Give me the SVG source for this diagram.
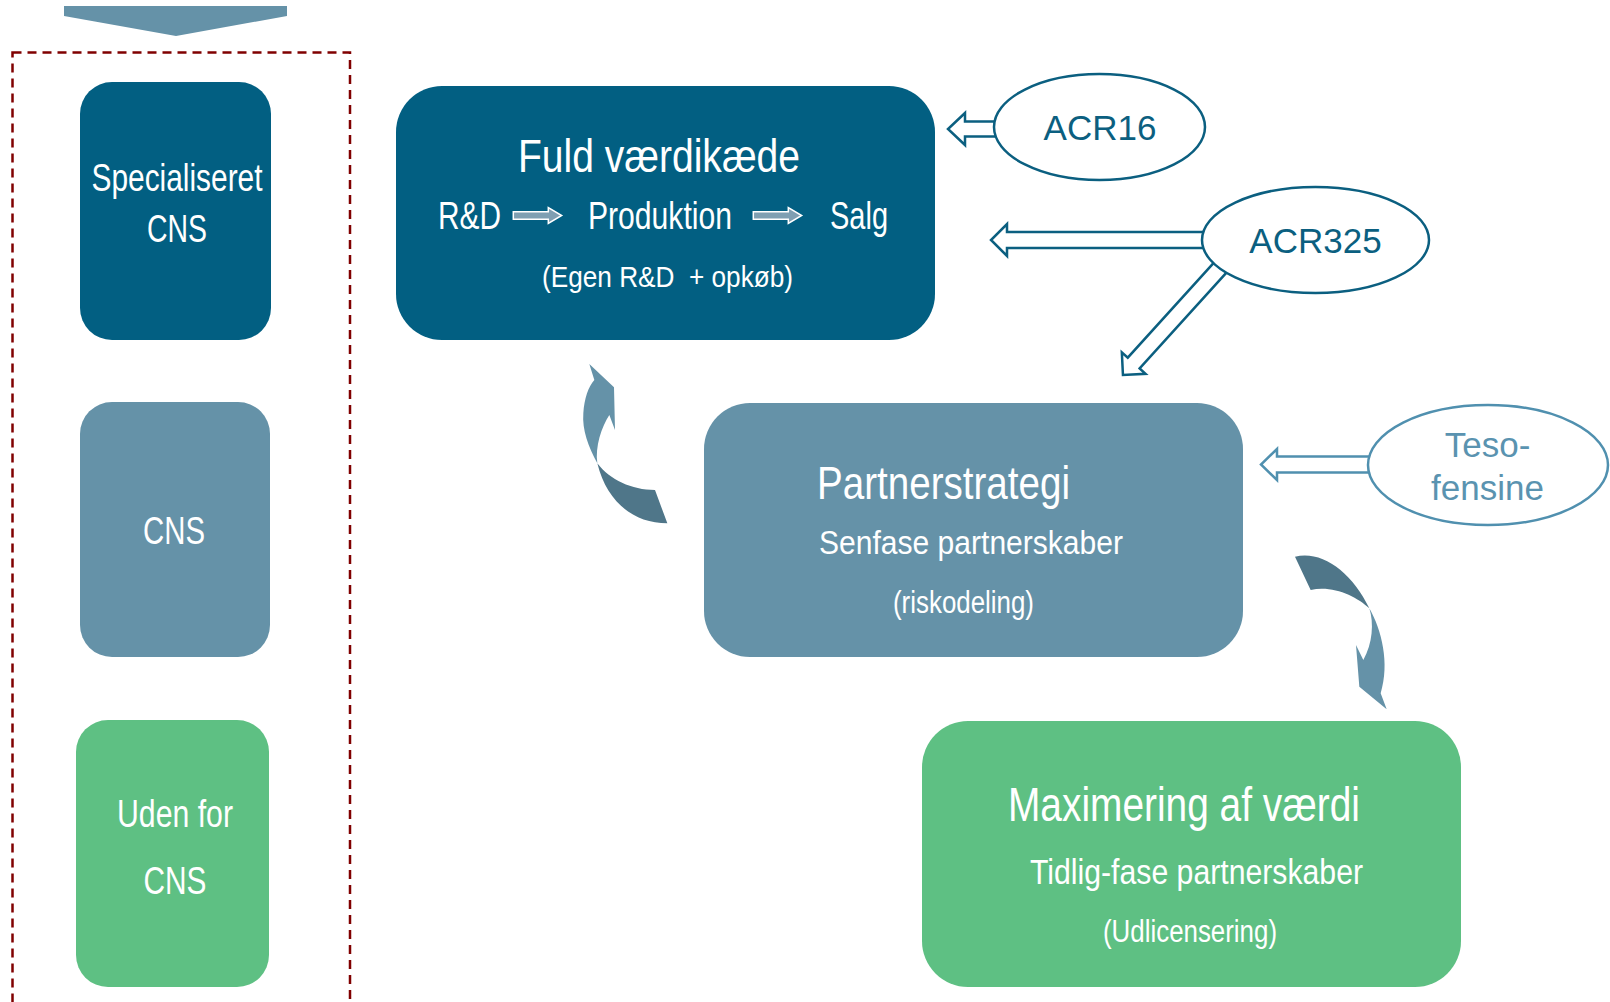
<svg xmlns="http://www.w3.org/2000/svg" width="1610" height="1002" viewBox="0 0 1610 1002">
<style>
.t{font-family:"Liberation Sans",Arial,sans-serif;fill:#fff;text-anchor:middle}
.dk{fill:#025f82}
.md{fill:#6592a8}
.gr{fill:#5ec083}
.ol{fill:#fff;stroke:#0b5f80;stroke-width:2.5}
.olt{fill:#fff;stroke:#5090af;stroke-width:2.5}
.lbl{font-family:"Liberation Sans",Arial,sans-serif;fill:#0b5f80;text-anchor:middle;font-size:35px}
.lblt{font-family:"Liberation Sans",Arial,sans-serif;fill:#5a93b0;text-anchor:middle;font-size:35px}
.inarr{fill:#7f9fb2;stroke:#fff;stroke-width:1.5}
</style>
<rect width="1610" height="1002" fill="#fff"/>
<polygon points="64,6 287,6 287,16 176,36 64,16" fill="#6592a8"/>
<rect x="12.5" y="52.5" width="337.5" height="1000" fill="none" stroke="#800000" stroke-width="2.5" stroke-dasharray="9 6"/>
<g id="connectors">
  <path class="ol" d="M998,121.5 H965 V113 L948,129 L965,145 V136.5 H998"/>
  <path class="ol" d="M1206,232 H1007 V224 L991,240 L1007,256 V248 H1206"/>
  <path class="ol" transform="translate(1219 269) rotate(132.2)" d="M-6,-8 H127 V-16 L143,0 L127,16 V8 H-6"/>
  <path class="olt" d="M1371,456.5 H1277 V449 L1261,464.5 L1277,480 V472.5 H1371"/>
  <g transform="translate(560 350) scale(0.33333)">
    <path fill="#6592a8" d="M88,42 L162,112 L165,240 L148,195 C125,230 105,290 112,340 C85,290 66,240 70,190 C73,145 85,110 103,90 Z"/>
    <path fill="#4f7689" d="M112,340 C150,390 215,420 285,420 L322,520 C220,520 140,455 112,340 Z"/>
  </g>
  <g transform="translate(1250 390) scale(0.33333)">
    <path fill="#4f7689" d="M135,500 C215,480 305,545 358,655 C320,620 250,585 182,600 Z"/>
    <path fill="#6592a8" d="M358,655 C395,720 420,820 392,910 L410,958 L328,890 L318,765 L340,810 C368,760 372,700 358,655 Z"/>
  </g>
</g>
<g id="n-specialiseret">
  <rect class="dk" x="80" y="82" width="191" height="258" rx="32"/>
  <text class="t" x="177" y="191" font-size="38" textLength="171" lengthAdjust="spacingAndGlyphs">Specialiseret</text>
  <text class="t" x="177" y="242" font-size="38" textLength="60" lengthAdjust="spacingAndGlyphs">CNS</text>
</g>
<g id="n-cns">
  <rect class="md" x="80" y="402" width="190" height="255" rx="32"/>
  <text class="t" x="174" y="544" font-size="38" textLength="62" lengthAdjust="spacingAndGlyphs">CNS</text>
</g>
<g id="n-uden">
  <rect class="gr" x="76" y="720" width="193" height="267" rx="32"/>
  <text class="t" x="175" y="827" font-size="38" textLength="116" lengthAdjust="spacingAndGlyphs">Uden for</text>
  <text class="t" x="175" y="894" font-size="38" textLength="63" lengthAdjust="spacingAndGlyphs">CNS</text>
</g>
<g id="n-fuld">
  <rect class="dk" x="396" y="86" width="539" height="254" rx="46"/>
  <text class="t" x="659" y="172" font-size="46" textLength="282" lengthAdjust="spacingAndGlyphs">Fuld værdikæde</text>
  <text class="t" x="469.5" y="229" font-size="38" textLength="63" lengthAdjust="spacingAndGlyphs">R&amp;D</text>
  <path class="inarr" d="M513.3,211.7 H548.3 V207.5 L561.7,215.5 L548.3,223.5 V219.3 H513.3 Z"/>
  <text class="t" x="660" y="229" font-size="38" textLength="144" lengthAdjust="spacingAndGlyphs">Produktion</text>
  <path class="inarr" d="M753.3,211.7 H788.3 V207.5 L801.7,215.5 L788.3,223.5 V219.3 H753.3 Z"/>
  <text class="t" x="859" y="229" font-size="38" textLength="58" lengthAdjust="spacingAndGlyphs">Salg</text>
  <text class="t" x="667.5" y="287" font-size="30" textLength="251" lengthAdjust="spacingAndGlyphs" style="white-space:pre">(Egen R&amp;D  + opkøb)</text>
</g>
<g id="n-partner">
  <rect class="md" x="704" y="403" width="539" height="254" rx="46"/>
  <text class="t" x="943.5" y="499" font-size="47" textLength="253" lengthAdjust="spacingAndGlyphs">Partnerstrategi</text>
  <text class="t" x="971" y="554" font-size="34" textLength="304" lengthAdjust="spacingAndGlyphs">Senfase partnerskaber</text>
  <text class="t" x="963.5" y="613" font-size="31" textLength="141" lengthAdjust="spacingAndGlyphs">(riskodeling)</text>
</g>
<g id="n-max">
  <rect class="gr" x="922" y="721" width="539" height="266" rx="46"/>
  <text class="t" x="1184" y="821" font-size="48" textLength="352" lengthAdjust="spacingAndGlyphs">Maximering af værdi</text>
  <text class="t" x="1196.5" y="884" font-size="35" textLength="333" lengthAdjust="spacingAndGlyphs">Tidlig-fase partnerskaber</text>
  <text class="t" x="1190" y="942" font-size="31" textLength="174" lengthAdjust="spacingAndGlyphs">(Udlicensering)</text>
</g>
<g id="n-acr16">
  <ellipse class="ol" cx="1099.5" cy="127" rx="105.5" ry="53"/>
  <text class="lbl" x="1100" y="140">ACR16</text>
</g>
<g id="n-acr325">
  <ellipse class="ol" cx="1315.5" cy="240" rx="113.5" ry="53"/>
  <text class="lbl" x="1315.5" y="253">ACR325</text>
</g>
<g id="n-teso">
  <ellipse class="olt" cx="1488" cy="465" rx="120" ry="60"/>
  <text class="lblt" x="1487.5" y="457">Teso-</text>
  <text class="lblt" x="1487.5" y="500">fensine</text>
</g>
</svg>
